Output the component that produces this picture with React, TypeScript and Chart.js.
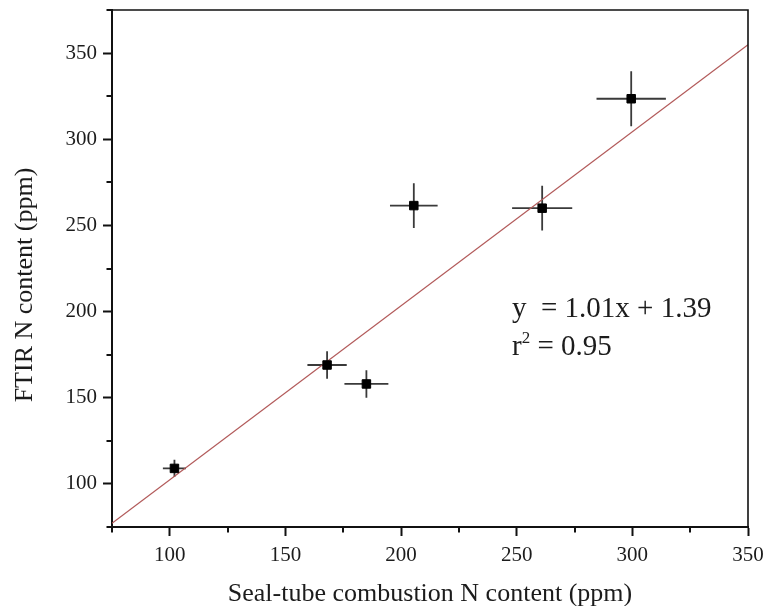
import { useEffect, useRef } from 'react';
import { Chart, registerables } from 'chart.js';

Chart.register(...registerables);

// Seal-tube combustion vs. FTIR nitrogen content (ppm), with ± uncertainties
const sealTubeN = [102, 168, 185, 205.5, 261, 299.5];
const ftirN = [109, 169, 158, 261.5, 260, 323.5];
const sealTubeErr = [5, 8.5, 9.5, 10.3, 13, 15];
const ftirErr = [5, 8, 8, 13, 13, 16];

// Least-squares fit reported on the chart
const fitSlope = 1.01;
const fitIntercept = 1.39;
const rSquared = 0.95;

const xLimits = [75, 350];
const yLimits = [75, 375];
const majorStep = 50;
const minorStep = 25;

const xTitle = 'Seal-tube combustion N content (ppm)';
const yTitle = 'FTIR N content (ppm)';

const SERIF = '"Liberation Serif", "Times New Roman", serif';
const INK = '#1c1c1c';

const isMajor = (v: number) => Math.abs(v % majorStep) < 1e-9;

const decorations = {
  id: 'decorations',
  beforeDatasetsDraw(chart: any) {
    const { ctx, scales } = chart;
    const xs = scales.x;
    const ys = scales.y;
    ctx.save();
    ctx.strokeStyle = '#3a3a3a';
    ctx.lineWidth = 1.8;
    sealTubeN.forEach((xv, i) => {
      const yv = ftirN[i];
      const px = xs.getPixelForValue(xv);
      const py = ys.getPixelForValue(yv);
      ctx.beginPath();
      ctx.moveTo(xs.getPixelForValue(xv - sealTubeErr[i]), py);
      ctx.lineTo(xs.getPixelForValue(xv + sealTubeErr[i]), py);
      ctx.moveTo(px, ys.getPixelForValue(yv - ftirErr[i]));
      ctx.lineTo(px, ys.getPixelForValue(yv + ftirErr[i]));
      ctx.stroke();
    });
    ctx.restore();
  },
  afterDraw(chart: any) {
    const { ctx, chartArea, scales } = chart;
    const { left, right, top, bottom } = chartArea;
    const xs = scales.x;
    const ys = scales.y;
    ctx.save();

    // frame: top and right edges
    ctx.strokeStyle = '#111';
    ctx.lineWidth = 1.6;
    ctx.beginPath();
    ctx.moveTo(left, top);
    ctx.lineTo(right, top);
    ctx.lineTo(right, bottom);
    ctx.stroke();

    // minor ticks (outward)
    ctx.lineWidth = 2;
    ctx.beginPath();
    for (let v = xLimits[0]; v <= xLimits[1]; v += minorStep) {
      if (isMajor(v)) continue;
      const px = Math.round(xs.getPixelForValue(v));
      ctx.moveTo(px, bottom);
      ctx.lineTo(px, bottom + 5.5);
    }
    for (let v = yLimits[0]; v <= yLimits[1]; v += minorStep) {
      if (isMajor(v)) continue;
      const py = Math.round(ys.getPixelForValue(v));
      ctx.moveTo(left, py);
      ctx.lineTo(left - 5.5, py);
    }
    ctx.stroke();

    // axis titles
    ctx.fillStyle = INK;
    ctx.font = `26px ${SERIF}`;
    ctx.textAlign = 'center';
    ctx.textBaseline = 'alphabetic';
    ctx.fillText(xTitle, (left + right) / 2, 601);

    ctx.save();
    ctx.translate(32, 285);
    ctx.rotate(-Math.PI / 2);
    ctx.fillText(yTitle, 0, 0);
    ctx.restore();

    // fit equation and r²
    ctx.textAlign = 'left';
    ctx.font = `29px ${SERIF}`;
    const tx = 512;
    ctx.fillText(`y  = ${fitSlope.toFixed(2)}x + ${fitIntercept.toFixed(2)}`, tx, 317);
    let cx = tx;
    ctx.fillText('r', cx, 355);
    cx += ctx.measureText('r').width;
    ctx.font = `17px ${SERIF}`;
    ctx.fillText('2', cx, 343);
    cx += ctx.measureText('2').width;
    ctx.font = `29px ${SERIF}`;
    ctx.fillText(` = ${rSquared.toFixed(2)}`, cx, 355);

    ctx.restore();
  },
};

export default function App() {
  const canvasRef = useRef<HTMLCanvasElement | null>(null);

  useEffect(() => {
    const canvas = canvasRef.current;
    if (!canvas) return;

    const points = sealTubeN.map((x, i) => ({ x, y: ftirN[i] }));
    const fitLine = xLimits.map((x) => ({ x, y: fitSlope * x + fitIntercept }));

    const axisCommon = (min: number, max: number) => ({
      type: 'linear' as const,
      min,
      max,
      ticks: {
        stepSize: minorStep,
        autoSkip: false,
        maxRotation: 0,
        color: INK,
        font: { family: SERIF, size: 21 },
        callback: (v: any) => (isMajor(Number(v)) ? String(v) : ''),
      },
      grid: {
        drawOnChartArea: false,
        drawTicks: true,
        tickLength: 9,
        tickWidth: 2,
        tickColor: (c: any) => (c.tick && isMajor(c.tick.value) ? '#111' : 'rgba(0,0,0,0)'),
      },
      border: { display: true, color: '#111', width: 2 },
    });

    const clearPadding = (s: any) => {
      s.paddingTop = 0;
      s.paddingBottom = 0;
      s.paddingLeft = 0;
      s.paddingRight = 0;
    };

    const xAxis: any = axisCommon(xLimits[0], xLimits[1]);
    xAxis.ticks.padding = 7;
    xAxis.afterFit = (s: any) => {
      s.height = 79;
      clearPadding(s);
    };
    const yAxis: any = axisCommon(yLimits[0], yLimits[1]);
    yAxis.ticks.padding = 6;
    yAxis.afterFit = (s: any) => {
      s.width = 112;
      clearPadding(s);
    };

    const chart = new Chart(canvas, {
      type: 'scatter',
      data: {
        datasets: [
          {
            data: points,
            pointStyle: 'rect',
            pointRadius: 6,
            pointHoverRadius: 6,
            backgroundColor: '#000',
            borderColor: '#000',
            borderWidth: 1,
          },
          {
            type: 'line',
            data: fitLine,
            showLine: true,
            borderColor: '#b25a5a',
            borderWidth: 1.2,
            pointRadius: 0,
            fill: false,
          } as any,
        ],
      },
      options: {
        responsive: false,
        animation: false,
        devicePixelRatio: 1,
        layout: { padding: { top: 10, right: 17, left: 0, bottom: 0 } },
        plugins: {
          legend: { display: false },
          tooltip: { enabled: false },
        },
        scales: { x: xAxis, y: yAxis },
      },
      plugins: [decorations],
    });

    return () => chart.destroy();
  }, []);

  return (
    <div style={{ position: 'fixed', left: 0, top: 0, width: 765, height: 606, background: '#fff' }}>
      <canvas ref={canvasRef} width={765} height={606} style={{ display: 'block' }} />
    </div>
  );
}
